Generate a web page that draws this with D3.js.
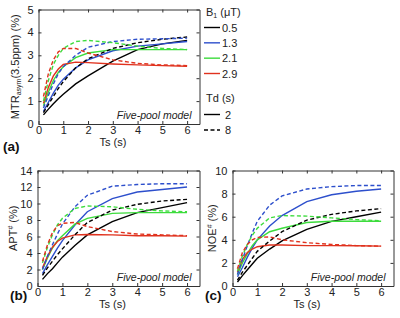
<!DOCTYPE html>
<html><head><meta charset="utf-8">
<script src="https://cdn.jsdelivr.net/npm/d3@7"></script>
<style>body{margin:0;background:#fff}svg{display:block;font-family:"Liberation Sans",Arial,sans-serif}</style>
</head><body><svg id="c" width="400" height="318"></svg>
<script>
// ---- data ----
const ts = [0.2, 0.4, 0.6, 0.8, 1, 1.5, 2, 3, 4, 5, 6];
const b1Labels = ["0.5", "1.3", "2.1", "2.9"];
const tdLabels = ["2", "8"];
// MTRasym(3.5ppm) (%), one row per B1 (0.5,1.3,2.1,2.9)
const mtrTd2 = [
  [0.4, 0.65, 0.88, 1.1, 1.3, 1.75, 2.1, 2.75, 3.25, 3.5, 3.65],
  [0.55, 0.95, 1.35, 1.7, 1.95, 2.45, 2.8, 3.2, 3.4, 3.5, 3.6],
  [0.8, 1.4, 1.9, 2.25, 2.5, 2.9, 3.1, 3.25, 3.25, 3.25, 3.25],
  [0.9, 1.6, 2.1, 2.4, 2.6, 2.7, 2.68, 2.62, 2.58, 2.55, 2.52]
];
const mtrTd8 = [
  [0.5, 0.85, 1.2, 1.55, 1.85, 2.45, 2.85, 3.3, 3.55, 3.7, 3.8],
  [0.7, 1.25, 1.75, 2.2, 2.5, 3.0, 3.35, 3.6, 3.7, 3.72, 3.75],
  [1.0, 1.9, 2.6, 3.0, 3.3, 3.6, 3.65, 3.55, 3.4, 3.3, 3.25],
  [1.2, 2.2, 2.8, 3.15, 3.3, 3.3, 3.1, 2.8, 2.65, 2.58, 2.55]
];
// APT# (%)
const aptTd2 = [
  [0.8, 1.5, 2.1, 2.8, 3.5, 4.9, 6.2, 7.8, 8.9, 9.5, 10.1],
  [1.5, 2.6, 3.6, 4.6, 5.5, 7.4, 9.0, 10.6, 11.4, 11.7, 12.0],
  [2.0, 3.4, 4.6, 5.5, 6.1, 7.5, 8.2, 8.8, 8.9, 8.9, 8.9],
  [2.2, 3.6, 4.7, 5.4, 5.8, 6.2, 6.25, 6.2, 6.1, 6.1, 6.05]
];
const aptTd8 = [
  [1.3, 2.2, 3.0, 3.8, 4.5, 6.2, 7.7, 9.2, 9.9, 10.3, 10.5],
  [2.0, 3.6, 5.0, 6.3, 7.5, 9.6, 11.0, 12.1, 12.3, 12.4, 12.4],
  [2.8, 4.7, 6.2, 7.4, 8.2, 9.4, 9.7, 9.6, 9.3, 9.1, 9.0],
  [3.0, 5.0, 6.5, 7.3, 7.6, 7.7, 7.2, 6.6, 6.3, 6.2, 6.1]
];
// NOE# (%)
const noeTd2 = [
  [0.35, 0.9, 1.4, 1.9, 2.4, 3.2, 3.9, 4.9, 5.6, 6.0, 6.4],
  [0.8, 1.6, 2.5, 3.3, 4.0, 5.2, 6.1, 7.3, 7.9, 8.2, 8.4],
  [1.0, 2.0, 2.8, 3.5, 4.0, 4.7, 5.0, 5.5, 5.6, 5.6, 5.6],
  [1.2, 2.3, 2.9, 3.2, 3.4, 3.55, 3.55, 3.5, 3.5, 3.48, 3.45]
];
const noeTd8 = [
  [0.5, 1.2, 1.8, 2.4, 3.0, 3.9, 4.7, 5.7, 6.2, 6.5, 6.7],
  [1.0, 2.3, 3.5, 4.6, 5.6, 7.0, 7.8, 8.4, 8.6, 8.7, 8.7],
  [1.3, 2.6, 3.6, 4.4, 5.0, 5.9, 6.1, 6.05, 5.9, 5.75, 5.65],
  [1.5, 2.9, 3.6, 4.0, 4.2, 4.25, 4.0, 3.75, 3.6, 3.5, 3.45]
];
const xTicks = [0, 1, 2, 3, 4, 5, 6];
const mtrYTicks = [0, 1, 2, 3, 4, 5];
const aptYTicks = [0, 2, 4, 6, 8, 10, 12, 14];
const noeYTicks = [0, 2, 4, 6, 8, 10];

// ---- styling ----
const colors = ["#000000", "#2d4fcc", "#3ddc3d", "#e0321e"];
const dashes = [null, "4,2.5"];
const svg = d3.select("#c");
const fmt = d3.format("d");

const panels = [
  {x0: 38.5, x1: 199.5, y0: 9.5, y1: 124, ymax: 5, yt: mtrYTicks, d2: mtrTd2, d8: mtrTd8, tag: "(a)", tagX: 3, tagY: 151, ylab: "mtr", ylx: 19},
  {x0: 37.5, x1: 199.5, y0: 170.5, y1: 286, ymax: 14, yt: aptYTicks, d2: aptTd2, d8: aptTd8, tag: "(b)", tagX: 10, tagY: 300, ylab: "APT", ylx: 17},
  {x0: 232.5, x1: 393.5, y0: 170.5, y1: 286, ymax: 10, yt: noeYTicks, d2: noeTd2, d8: noeTd8, tag: "(c)", tagX: 205, tagY: 300, ylab: "NOE", ylx: 216}
];

panels.forEach(p => {
  const x = d3.scaleLinear().domain([0, 6.5]).range([p.x0, p.x1]);
  const y = d3.scaleLinear().domain([0, p.ymax]).range([p.y1, p.y0]);
  const g = svg.append("g");
  const line = d3.line().x((d, i) => x(ts[i])).y(d => y(d));
  [p.d2, p.d8].forEach((set, k) => {
    set.forEach((vals, j) => {
      g.append("path").datum(vals).attr("d", line).attr("fill", "none")
        .attr("stroke", colors[j]).attr("stroke-width", 1.4)
        .attr("stroke-dasharray", dashes[k]);
    });
  });
  const gb = g.append("g").attr("transform", `translate(0,${p.y1})`)
    .call(d3.axisBottom(x).tickValues(xTicks).tickFormat(fmt).tickSizeInner(-3).tickSizeOuter(0).tickPadding(2.5));
  const gl = g.append("g").attr("transform", `translate(${p.x0},0)`)
    .call(d3.axisLeft(y).tickValues(p.yt).tickFormat(fmt).tickSizeInner(-3).tickSizeOuter(0).tickPadding(5));
  const gt = g.append("g").attr("transform", `translate(0,${p.y0})`)
    .call(d3.axisTop(x).tickValues(xTicks).tickSizeInner(-3).tickSizeOuter(0).tickFormat(""));
  const gr = g.append("g").attr("transform", `translate(${p.x1},0)`)
    .call(d3.axisRight(y).tickValues(p.yt).tickSizeInner(-3).tickSizeOuter(0).tickFormat(""));
  [gb, gl, gt, gr].forEach(a => {
    a.select(".domain").attr("stroke", "#333").attr("stroke-width", 1);
    a.selectAll(".tick line").attr("stroke", "#333");
    a.selectAll("text").attr("font-size", 11).attr("fill", "#222")
      .attr("font-family", "'Liberation Sans',Arial,sans-serif");
  });
  g.append("text").attr("x", (p.x0 + p.x1) / 2 - 6).attr("y", p.y1 + 21.5)
    .attr("text-anchor", "middle").attr("font-size", 11).attr("fill", "#222").text("Ts (s)");
  const yl = g.append("text").attr("transform", `translate(${p.ylx},${(p.y0 + p.y1) / 2}) rotate(-90)`)
    .attr("text-anchor", "middle").attr("font-size", 11).attr("fill", "#222");
  if (p.ylab === "mtr") {
    yl.append("tspan").text("MTR");
    yl.append("tspan").attr("font-size", 7).attr("dy", 2).text("asym");
    yl.append("tspan").attr("dy", -2).text("(3.5ppm) (%)");
  } else {
    yl.append("tspan").text(p.ylab);
    yl.append("tspan").attr("font-size", 7).attr("dy", -4).text("#");
    yl.append("tspan").attr("dy", 4).text(" (%)");
  }
  g.append("text").attr("x", p.x1 - 8).attr("y", p.y1 - 5).attr("text-anchor", "end")
    .attr("font-size", 10.5).attr("font-style", "italic").attr("fill", "#222").text("Five-pool model");
  g.append("text").attr("x", p.tagX).attr("y", p.tagY).attr("font-size", 13.5)
    .attr("font-weight", "bold").attr("fill", "#111").text(p.tag);
});

// ---- legend ----
const lg = svg.append("g").attr("font-size", 11).attr("fill", "#222");
const bt = lg.append("text").attr("x", 206).attr("y", 16);
bt.append("tspan").text("B");
bt.append("tspan").attr("font-size", 7).attr("dy", 2).text("1");
bt.append("tspan").attr("dy", -2).text(" (μT)");
const rowY = d3.scaleLinear().domain([0, 3]).range([27.5, 73.5]);
b1Labels.forEach((lab, i) => {
  lg.append("line").attr("x1", 204).attr("x2", 220).attr("y1", rowY(i)).attr("y2", rowY(i))
    .attr("stroke", colors[i]).attr("stroke-width", 1.4);
  lg.append("text").attr("x", 222).attr("y", rowY(i) + 4).text(lab);
});
lg.append("text").attr("x", 206).attr("y", 102).text("Td (s)");
tdLabels.forEach((lab, i) => {
  const yy = 114.5 + i * 15.5;
  lg.append("line").attr("x1", 204).attr("x2", 220).attr("y1", yy).attr("y2", yy)
    .attr("stroke", "#000").attr("stroke-width", 1.4).attr("stroke-dasharray", dashes[i]);
  lg.append("text").attr("x", 225).attr("y", yy + 4).text(lab);
});
</script></body></html>
